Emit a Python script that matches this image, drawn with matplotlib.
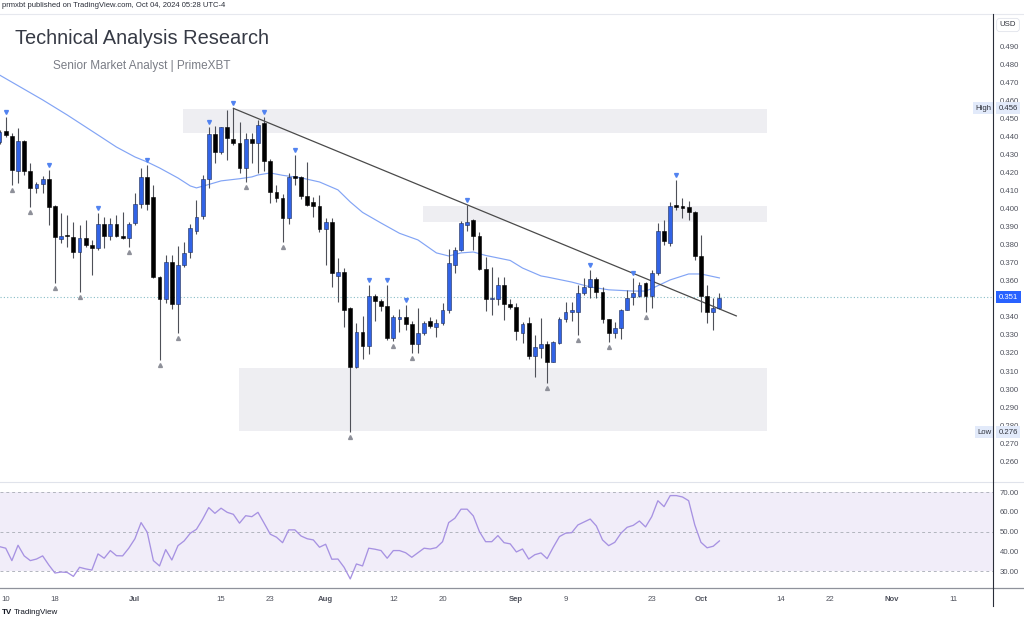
import matplotlib
matplotlib.use("Agg")
import matplotlib.pyplot as plt
import matplotlib.dates as mdates
import matplotlib.transforms as mtransforms
from matplotlib.lines import Line2D
import numpy as np
import pandas as pd

plt.rcParams["font.family"] = ["Liberation Sans", "DejaVu Sans"]

# daily candles, 2024-06-09 .. 2024-10-04
first_day = "2024-06-09"
opens = [0.4370, 0.4435, 0.4406, 0.4211, 0.4378, 0.4211, 0.4118, 0.4139, 0.4167, 0.4017,
         0.3832, 0.3853, 0.3846, 0.3763, 0.3837, 0.3800, 0.3781, 0.3917, 0.3850, 0.3917,
         0.3850, 0.3841, 0.3920, 0.4026, 0.4176, 0.4068, 0.3620, 0.3498, 0.3707, 0.3472,
         0.3689, 0.3759, 0.3878, 0.3963, 0.4167, 0.4417, 0.4315, 0.4457, 0.4387, 0.4368,
         0.4230, 0.4387, 0.4368, 0.4476, 0.4269, 0.4096, 0.4059, 0.3948, 0.4183, 0.4180,
         0.4074, 0.4037, 0.4018, 0.3889, 0.3930, 0.3630, 0.3648, 0.3448, 0.3121, 0.3318,
         0.3241, 0.3517, 0.3491, 0.3461, 0.3281, 0.3391, 0.3398, 0.3361, 0.3250, 0.3309,
         0.3380, 0.3343, 0.3368, 0.3439, 0.3689, 0.3772, 0.3911, 0.3939, 0.3850, 0.3667,
         0.3500, 0.3500, 0.3578, 0.3472, 0.3454, 0.3313, 0.3368, 0.3183, 0.3229, 0.3250,
         0.3152, 0.3254, 0.3389, 0.3429, 0.3429, 0.3531, 0.3569, 0.3611, 0.3541, 0.3389,
         0.3313, 0.3341, 0.3439, 0.3513, 0.3518, 0.3587, 0.3518, 0.3643, 0.3878, 0.3809,
         0.4022, 0.4018, 0.4009, 0.3981, 0.3741, 0.3518, 0.3429, 0.3452]
highs = [0.4440, 0.4509, 0.4420, 0.4448, 0.4383, 0.4254, 0.4152, 0.4183, 0.4217, 0.4020,
         0.3976, 0.3967, 0.3930, 0.3911, 0.3939, 0.3828, 0.3976, 0.3957, 0.3948, 0.3967,
         0.3985, 0.3930, 0.4087, 0.4226, 0.4244, 0.4133, 0.3625, 0.3744, 0.3744, 0.3796,
         0.3819, 0.3915, 0.4050, 0.4189, 0.4457, 0.4463, 0.4457, 0.4550, 0.4559, 0.4485,
         0.4420, 0.4420, 0.4494, 0.4513, 0.4280, 0.4133, 0.4083, 0.4198, 0.4300, 0.4185,
         0.4263, 0.4068, 0.4078, 0.3948, 0.3948, 0.3726, 0.3670, 0.3455, 0.3368, 0.3406,
         0.3578, 0.3528, 0.3500, 0.3578, 0.3411, 0.3443, 0.3467, 0.3380, 0.3448, 0.3380,
         0.3402, 0.3387, 0.3479, 0.3776, 0.3787, 0.3935, 0.4022, 0.3945, 0.3870, 0.3735,
         0.3676, 0.3620, 0.3620, 0.3502, 0.3480, 0.3372, 0.3398, 0.3300, 0.3396, 0.3265,
         0.3268, 0.3402, 0.3485, 0.3485, 0.3578, 0.3615, 0.3661, 0.3624, 0.3569, 0.3391,
         0.3372, 0.3446, 0.3550, 0.3615, 0.3596, 0.3596, 0.3661, 0.3920, 0.3939, 0.4041,
         0.4161, 0.4059, 0.4044, 0.3990, 0.3856, 0.3578, 0.3507, 0.3531]
lows = [0.4360, 0.4398, 0.4133, 0.4143, 0.4189, 0.4013, 0.4087, 0.4087, 0.3911, 0.3591,
        0.3809, 0.3791, 0.3726, 0.3541, 0.3791, 0.3633, 0.3772, 0.3781, 0.3828, 0.3846,
        0.3832, 0.3791, 0.3911, 0.4004, 0.3994, 0.3615, 0.3161, 0.3476, 0.3443, 0.3309,
        0.3680, 0.3726, 0.3859, 0.3944, 0.4115, 0.4254, 0.4304, 0.4272, 0.4356, 0.4198,
        0.4152, 0.4254, 0.4198, 0.4211, 0.4031, 0.4041, 0.3818, 0.3917, 0.4133, 0.4056,
        0.4019, 0.3957, 0.3874, 0.3689, 0.3569, 0.3485, 0.3346, 0.2760, 0.3115, 0.3165,
        0.3194, 0.3380, 0.3435, 0.3272, 0.3265, 0.3318, 0.3330, 0.3198, 0.3202, 0.3300,
        0.3337, 0.3287, 0.3357, 0.3420, 0.3643, 0.3765, 0.3880, 0.3772, 0.3663, 0.3435,
        0.3411, 0.3467, 0.3383, 0.3446, 0.3272, 0.3254, 0.3165, 0.3068, 0.3170, 0.3031,
        0.3150, 0.3250, 0.3374, 0.3378, 0.3300, 0.3522, 0.3504, 0.3504, 0.3365, 0.3263,
        0.3285, 0.3278, 0.3437, 0.3467, 0.3513, 0.3429, 0.3452, 0.3633, 0.3800, 0.3795,
        0.3994, 0.3948, 0.3939, 0.3717, 0.3429, 0.3365, 0.3328, 0.3444]
closes = [0.4430, 0.4411, 0.4217, 0.4378, 0.4211, 0.4118, 0.4137, 0.4165, 0.4009, 0.3843,
          0.3850, 0.3848, 0.3763, 0.3837, 0.3800, 0.3781, 0.3917, 0.3850, 0.3917, 0.3850,
          0.3841, 0.3917, 0.4026, 0.4176, 0.4026, 0.3620, 0.3498, 0.3707, 0.3472, 0.3689,
          0.3757, 0.3894, 0.3957, 0.4167, 0.4417, 0.4315, 0.4457, 0.4393, 0.4368, 0.4230,
          0.4387, 0.4368, 0.4467, 0.4269, 0.4096, 0.4059, 0.3948, 0.4180, 0.4174, 0.4074,
          0.4024, 0.4018, 0.3889, 0.3930, 0.3643, 0.3648, 0.3439, 0.3121, 0.3318, 0.3241,
          0.3517, 0.3491, 0.3461, 0.3281, 0.3398, 0.3402, 0.3361, 0.3250, 0.3309, 0.3368,
          0.3350, 0.3368, 0.3439, 0.3702, 0.3772, 0.3920, 0.3930, 0.3850, 0.3667, 0.3500,
          0.3502, 0.3578, 0.3472, 0.3454, 0.3324, 0.3361, 0.3183, 0.3231, 0.3250, 0.3152,
          0.3259, 0.3389, 0.3429, 0.3439, 0.3531, 0.3569, 0.3611, 0.3541, 0.3389, 0.3313,
          0.3341, 0.3439, 0.3507, 0.3531, 0.3578, 0.3518, 0.3643, 0.3878, 0.3822, 0.4018,
          0.4013, 0.4007, 0.3981, 0.3741, 0.3518, 0.3429, 0.3452, 0.3507]
rsi = [42.4, 41.6, 35.3, 43.1, 37.7, 35.3, 36.1, 37.7, 33.1, 29.0,
       29.5, 29.3, 27.3, 31.9, 31.1, 30.5, 38.7, 36.5, 40.4, 37.8,
       37.7, 41.6, 46.4, 54.6, 49.7, 35.3, 32.6, 40.9, 35.6, 42.9,
       45.3, 49.2, 51.2, 56.3, 62.2, 59.3, 61.9, 59.8, 58.8, 54.3,
       58.1, 57.6, 59.8, 54.3, 48.7, 47.2, 44.4, 50.9, 50.9, 47.8,
       46.4, 45.8, 42.1, 43.6, 36.0, 36.1, 31.9, 26.0, 33.6, 32.6,
       41.6, 41.1, 40.4, 36.5, 40.4, 40.4, 39.3, 37.0, 39.3, 41.6,
       41.2, 41.9, 44.9, 54.6, 56.8, 61.4, 61.4, 58.0, 50.0, 44.9,
       44.9, 48.0, 44.4, 43.8, 39.7, 41.2, 36.1, 38.3, 39.2, 36.3,
       42.1, 47.5, 49.2, 49.5, 53.4, 54.9, 56.4, 52.9, 45.8, 42.9,
       44.6, 49.2, 52.2, 53.2, 55.4, 52.4, 57.6, 65.7, 62.7, 68.3,
       68.3, 67.6, 65.7, 53.4, 44.6, 41.8, 42.6, 45.3]

# moving average read at candle numbers (1 = first candle)
ma_candle = [1, 8, 12, 17, 20, 23, 25, 27, 30, 32, 33, 35, 37, 40, 42, 43, 45, 47, 50,
             53, 56, 58, 60, 63, 66, 69, 72, 74, 76, 78, 80, 84, 86, 89, 90, 94, 97,
             100, 104, 106, 107, 110, 113, 115, 118]
ma_value = [0.4744, 0.4606, 0.4522, 0.4411, 0.4344, 0.4289, 0.4261, 0.4228, 0.4172,
            0.4128, 0.4117, 0.4136, 0.4156, 0.4168, 0.4178, 0.4189, 0.4200, 0.4187,
            0.4173, 0.4150, 0.4106, 0.4039, 0.3981, 0.3922, 0.3865, 0.3828, 0.3756,
            0.3739, 0.3756, 0.3761, 0.3742, 0.3714, 0.3672, 0.3628, 0.3622, 0.3594,
            0.3567, 0.3551, 0.3544, 0.3544, 0.3558, 0.3606, 0.3639, 0.3639, 0.3617]

pivot_high_candles = [2, 9, 17, 25, 35, 39, 44, 49, 61, 64, 67, 77, 97, 104, 111]
pivot_low_candles = [3, 6, 10, 14, 22, 27, 30, 41, 47, 58, 65, 68, 90, 95, 100, 106]

# shaded zones: start, end, bottom, top
zone_start = ["2024-07-08 19:00", "2024-08-16 20:00", "2024-07-17 22:00"]
zone_end = ["2024-10-11 19:00", "2024-10-11 19:00", "2024-10-11 19:00"]
zone_bottom = [0.4422, 0.3925, 0.2767]
zone_top = [0.4556, 0.4018, 0.3119]

trend_dates = ["2024-07-17 00:00", "2024-10-06 18:00"]
trend_prices = [0.4559, 0.3406]

last_price = 0.351
range_high = 0.456
range_low = 0.276

tick_dates = ["2024-06-10", "2024-06-18", "2024-07-01", "2024-07-15", "2024-07-23",
              "2024-08-01", "2024-08-12", "2024-08-20", "2024-09-01", "2024-09-09",
              "2024-09-23", "2024-10-01", "2024-10-14", "2024-10-22", "2024-11-01",
              "2024-11-11"]
tick_labels = ["10", "18", "Jul", "15", "23", "Aug", "12", "20", "Sep", "9", "23", "Oct",
               "14", "22", "Nov", "11"]
month_labels = {"Jul", "Aug", "Sep", "Oct", "Nov"}

price_ticks = [0.26, 0.27, 0.28, 0.29, 0.30, 0.31, 0.32, 0.33, 0.34, 0.36, 0.37, 0.38,
               0.39, 0.40, 0.41, 0.42, 0.43, 0.44, 0.45, 0.46, 0.47, 0.48, 0.49]
rsi_ticks = [30, 40, 50, 60, 70]

BLUE = "#3163e6"
W, H = 1024, 620
FS = 5.6


def to_num(stamps):
    return np.array([mdates.date2num(pd.Timestamp(s)) for s in stamps])


dates = pd.date_range(first_day, periods=len(opens), freq="D")
x = mdates.date2num(dates)
o, h, l, c = map(np.array, (opens, highs, lows, closes))
up = c >= o

fig = plt.figure(figsize=(W / 100, H / 100), dpi=100)
ax = fig.add_axes([0, 1 - 481 / H, 993 / W, (481 - 14) / H])
rax = fig.add_axes([0, 1 - 588 / H, 993 / W, (588 - 482) / H], sharex=ax)

x0 = x[0] + 0.07
ax.set_xlim(x0, x0 + 161.4)
ax.set_ylim(0.2489, 0.5083)
rax.set_ylim(21.4, 75.2)

for a in (ax, rax):
    for s in a.spines.values():
        s.set_visible(False)
    a.yaxis.tick_right()
    a.tick_params(axis="y", length=0, pad=5, labelsize=FS, labelcolor="#50535e")

# zones
for zs, ze, zb, zt in zip(to_num(zone_start), to_num(zone_end), zone_bottom, zone_top):
    ax.add_patch(plt.Rectangle((zs, zb), ze - zs, zt - zb, color="#eeeef2", lw=0, zorder=0))

# last price dotted line
ax.axhline(last_price, color="#86bcc6", lw=0.8, ls=(0, (1, 2)), zorder=1)

# moving average
ma_x = x[np.array(ma_candle) - 1]
ax.plot(ma_x, ma_value, color="#82a4f5", lw=0.85, zorder=2)

# trend line
ax.plot(to_num(trend_dates), trend_prices, color="#4a4a4a", lw=0.9, zorder=2)

# candles
ax.vlines(x, l, h, color="#4e5058", lw=0.8, zorder=3)
body_lo = np.minimum(o, c)
body_h = np.maximum(np.abs(c - o), 0.0006)
ax.bar(x[up], body_h[up], bottom=body_lo[up], width=0.62, color=BLUE,
       edgecolor="#1d2b55", lw=0.4, zorder=4)
ax.bar(x[~up], body_h[~up], bottom=body_lo[~up], width=0.62, color="#000000",
       edgecolor="#000000", lw=0.4, zorder=4)

# pivot markers
ph = np.array(pivot_high_candles) - 1
pl = np.array(pivot_low_candles) - 1
ax.plot(x[ph], h[ph] + 0.0028, ls="none", marker="v", ms=2.8, color="#5283f0", zorder=5)
ax.plot(x[pl], l[pl] - 0.0028, ls="none", marker="^", ms=2.8, color="#8e9099", zorder=5)

ax.set_yticks(price_ticks)
ax.set_yticklabels([f"{t:.3f}" for t in price_ticks])
ax.tick_params(axis="x", bottom=False, labelbottom=False)

# right axis tags
yblend = mtransforms.blended_transform_factory(ax.transAxes, ax.transData)
ax.text(1.0155, last_price, f"{last_price:.3f}", transform=yblend, ha="center", va="center",
        fontsize=FS, color="white", clip_on=False, zorder=10,
        bbox=dict(boxstyle="square,pad=0.35", fc="#2962ff", ec="none"))
for val, name in ((range_high, "High"), (range_low, "Low")):
    ax.text(1.0155, val, f"{val:.3f}", transform=yblend, ha="center", va="center",
            fontsize=FS, color="#30333c", clip_on=False, zorder=10,
            bbox=dict(boxstyle="square,pad=0.3", fc="#e2eafa", ec="none"))
    ax.text(0.9985, val, name, transform=yblend, ha="right", va="center",
            fontsize=FS, color="#30333c", clip_on=False, zorder=10,
            bbox=dict(boxstyle="square,pad=0.3", fc="#e2eafa", ec="none"))
fig.text(1008 / W, 1 - 25 / H, "USD", ha="center", va="center", fontsize=FS, color="#30333c",
         bbox=dict(boxstyle="round,pad=0.4", fc="white", ec="#e0e3eb", lw=0.6))

# RSI pane
rax.axhspan(30, 70, color="#f1edf9", lw=0, zorder=0)
for lvl in (30, 50, 70):
    rax.axhline(lvl, color="#b2b5be", lw=0.7, ls=(0, (3, 3)), zorder=1)
rax.plot(x, rsi, color="#a792e2", lw=0.95, zorder=3)
rax.set_yticks(rsi_ticks)
rax.set_yticklabels([f"{t:.2f}" for t in rsi_ticks])

rax.set_xticks(to_num(tick_dates))
rax.set_xticklabels(tick_labels)
rax.tick_params(axis="x", length=0, pad=5.5, labelsize=FS, labelcolor="#50535e")
for lab in rax.get_xticklabels():
    if lab.get_text() in month_labels:
        lab.set_fontweight("bold")

# frame lines
fig.add_artist(Line2D([0, 1], [1 - 14 / H] * 2, color="#e6e8ee", lw=0.8))
fig.add_artist(Line2D([0, 1], [1 - 481.5 / H] * 2, color="#e0e3eb", lw=0.8))
fig.add_artist(Line2D([0, 1], [1 - 588 / H] * 2, color="#8f929b", lw=0.9))
fig.add_artist(Line2D([993 / W] * 2, [1 - 14 / H, 1 - 606 / H], color="#2a2e39", lw=0.8))

# titles
fig.text(2 / W, 1 - 5.5 / H, "prmxbt published on TradingView.com, Oct 04, 2024 05:28 UTC-4",
         fontsize=5.5, color="#2a2e39", va="center", ha="left")
fig.text(15 / W, 1 - 39 / H, "Technical Analysis Research", fontsize=14.4, color="#363a45",
         va="center", ha="left")
fig.text(53 / W, 1 - 66 / H, "Senior Market Analyst | PrimeXBT", fontsize=8.5, color="#7a7d86",
         va="center", ha="left")
fig.text(2 / W, 1 - 612 / H, "TV", fontsize=5.8, fontweight="bold", color="#131722",
         va="center", ha="left")
fig.text(14 / W, 1 - 612 / H, "TradingView", fontsize=5.8, color="#131722",
         va="center", ha="left")

fig.savefig("out.png", dpi=100)
